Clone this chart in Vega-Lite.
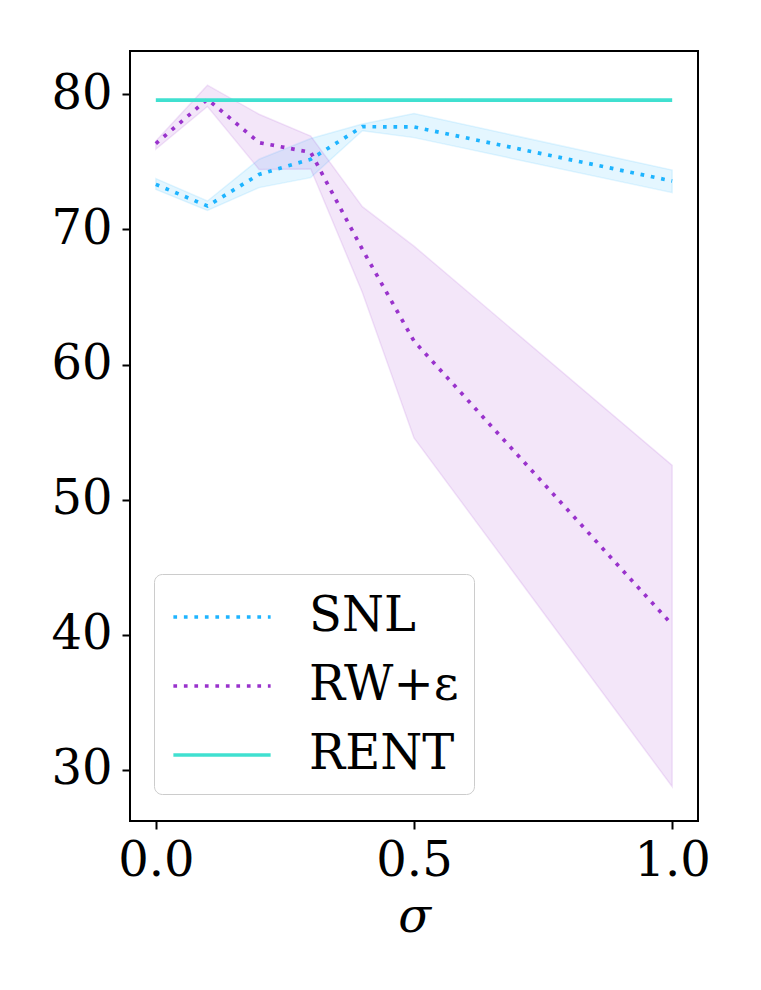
{
  "$schema": "https://vega.github.io/schema/vega-lite/v6.json",
  "width": 568,
  "height": 770,
  "autosize": {"type": "none"},
  "padding": {"left": 130, "top": 51, "right": 63, "bottom": 169},
  "background": "white",
  "data": {
    "values": [
      {"sigma": 0.0, "method": "SNL", "mean": 73.33, "lo": 72.96, "hi": 73.76},
      {"sigma": 0.1, "method": "SNL", "mean": 71.73, "lo": 71.4, "hi": 72.1},
      {"sigma": 0.2, "method": "SNL", "mean": 74.07, "lo": 73.09, "hi": 75.19},
      {"sigma": 0.3, "method": "SNL", "mean": 75.19, "lo": 73.83, "hi": 76.72},
      {"sigma": 0.4, "method": "SNL", "mean": 77.6, "lo": 77.3, "hi": 77.8},
      {"sigma": 0.5, "method": "SNL", "mean": 77.58, "lo": 76.79, "hi": 78.57},
      {"sigma": 1.0, "method": "SNL", "mean": 73.58, "lo": 72.72, "hi": 74.39},
      {"sigma": 0.0, "method": "RW+ε", "mean": 76.35, "lo": 75.93, "hi": 76.54},
      {"sigma": 0.1, "method": "RW+ε", "mean": 79.63, "lo": 79.09, "hi": 80.67},
      {"sigma": 0.2, "method": "RW+ε", "mean": 76.42, "lo": 74.44, "hi": 78.52},
      {"sigma": 0.3, "method": "RW+ε", "mean": 75.7, "lo": 74.47, "hi": 76.91},
      {"sigma": 0.4, "method": "RW+ε", "mean": 68.52, "lo": 65.33, "hi": 71.68},
      {"sigma": 0.5, "method": "RW+ε", "mean": 61.73, "lo": 54.57, "hi": 68.76},
      {"sigma": 1.0, "method": "RW+ε", "mean": 40.74, "lo": 28.76, "hi": 52.54},
      {"sigma": 0.0, "method": "RENT", "mean": 79.56},
      {"sigma": 0.1, "method": "RENT", "mean": 79.56},
      {"sigma": 0.2, "method": "RENT", "mean": 79.56},
      {"sigma": 0.3, "method": "RENT", "mean": 79.56},
      {"sigma": 0.4, "method": "RENT", "mean": 79.56},
      {"sigma": 0.5, "method": "RENT", "mean": 79.56},
      {"sigma": 1.0, "method": "RENT", "mean": 79.56}
    ]
  },
  "encoding": {
    "x": {
      "field": "sigma",
      "type": "quantitative",
      "scale": {"domain": [-0.05, 1.05], "nice": false, "zero": false},
      "axis": {"values": [0, 0.5, 1], "format": ".1f", "title": "σ", "labelPadding": 8, "titlePadding": 8}
    }
  },
  "layer": [
    {
      "transform": [{"filter": "datum.method !== 'RENT'"}],
      "mark": {"type": "area", "fillOpacity": 0.12, "strokeOpacity": 0.12, "strokeWidth": 1.5},
      "encoding": {
        "y": {"field": "lo", "type": "quantitative"},
        "y2": {"field": "hi"},
        "fill": {
          "field": "method",
          "type": "nominal",
          "scale": {"domain": ["SNL", "RW+ε"], "range": ["#1EB4FF", "#9932CC"]},
          "legend": null
        },
        "stroke": {
          "field": "method",
          "type": "nominal",
          "scale": {"domain": ["SNL", "RW+ε"], "range": ["#1EB4FF", "#9932CC"]},
          "legend": null
        }
      }
    },
    {
      "mark": {"type": "line", "strokeWidth": 3.7, "strokeCap": "butt"},
      "encoding": {
        "y": {
          "field": "mean",
          "type": "quantitative",
          "scale": {"domain": [26.22, 83.2], "nice": false, "zero": false},
          "axis": {"values": [30, 40, 50, 60, 70, 80], "title": null, "labelPadding": 10}
        },
        "color": {
          "field": "method",
          "type": "nominal",
          "scale": {"domain": ["SNL", "RW+ε", "RENT"], "range": ["#1EB4FF", "#9932CC", "#40E0D0"]},
          "legend": {
            "title": null,
            "orient": "none",
            "legendX": 24,
            "legendY": 523,
            "symbolType": "M-1.87,0H1.87",
            "symbolSize": 2704,
            "symbolStrokeWidth": 3.7,
            "symbolOffset": 25,
            "labelFontSize": 48,
            "labelOffset": 59,
            "rowPadding": 17,
            "padding": 15,
            "strokeColor": "#cccccc",
            "fillColor": "rgba(255,255,255,0.8)",
            "cornerRadius": 8
          }
        },
        "strokeDash": {
          "field": "method",
          "type": "nominal",
          "scale": {"domain": ["SNL", "RW+ε", "RENT"], "range": [[3.7, 6.8], [3.7, 6.8], [1, 0]]},
          "legend": {
            "title": null,
            "orient": "none",
            "legendX": 24,
            "legendY": 523,
            "symbolType": "M-1.87,0H1.87",
            "symbolSize": 2704,
            "symbolStrokeWidth": 3.7,
            "symbolOffset": 25,
            "labelFontSize": 48,
            "labelOffset": 59,
            "rowPadding": 17,
            "padding": 15,
            "strokeColor": "#cccccc",
            "fillColor": "rgba(255,255,255,0.8)",
            "cornerRadius": 8
          }
        }
      }
    }
  ],
  "config": {
    "font": "DejaVu Serif",
    "view": {"stroke": "black", "strokeWidth": 2},
    "axis": {
      "grid": false,
      "domain": false,
      "labelFont": "DejaVu Serif",
      "labelFontSize": 48,
      "labelColor": "black",
      "tickColor": "black",
      "tickSize": 8,
      "tickWidth": 2,
      "titleFont": "DejaVu Serif",
      "titleFontSize": 48,
      "titleFontWeight": "normal",
      "titleFontStyle": "italic",
      "titleColor": "black"
    },
    "legend": {
      "labelFont": "DejaVu Serif",
      "labelColor": "black",
      "labelLimit": 400
    }
  }
}
